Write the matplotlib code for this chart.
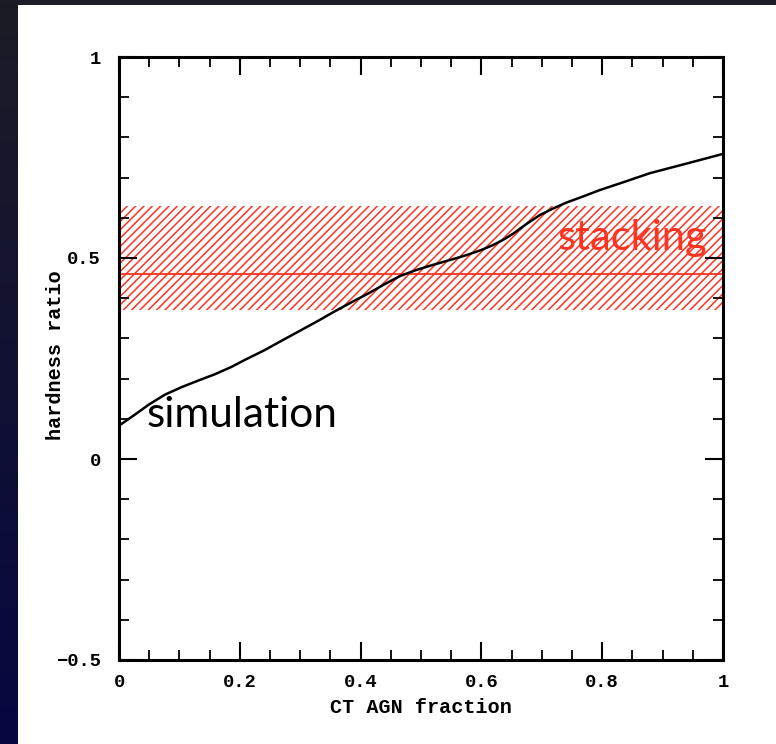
import numpy as np
import matplotlib
matplotlib.use("Agg")
import matplotlib.pyplot as plt
from matplotlib.ticker import MultipleLocator

# ---- data ----
frac = [0.0, 0.026, 0.049, 0.076, 0.104, 0.131, 0.159, 0.186, 0.209, 0.240,
        0.269, 0.302, 0.330, 0.358, 0.385, 0.413, 0.440, 0.465, 0.492, 0.520,
        0.548, 0.575, 0.600, 0.619, 0.637, 0.653, 0.675, 0.697, 0.720, 0.741,
        0.770, 0.796, 0.838, 0.879, 0.940, 1.0]
hr = [0.083, 0.110, 0.135, 0.160, 0.179, 0.195, 0.211, 0.229, 0.247, 0.270,
      0.294, 0.321, 0.344, 0.368, 0.390, 0.412, 0.435, 0.455, 0.470, 0.483,
      0.495, 0.507, 0.520, 0.532, 0.546, 0.561, 0.585, 0.607, 0.624, 0.638,
      0.654, 0.669, 0.690, 0.711, 0.735, 0.759]
stack_mean = 0.46
stack_lo = 0.37
stack_hi = 0.63
xticks = [0, 0.2, 0.4, 0.6, 0.8, 1]
xticklabels = ["0", "0.2", "0.4", "0.6", "0.8", "1"]
yticks = [-0.5, 0, 0.5, 1]
yticklabels = ["\u22120.5", "0", "0.5", "1"]

plt.rcParams['hatch.linewidth'] = 1.1

fig = plt.figure(figsize=(7.76, 7.44), dpi=100)

# dark gradient background
bg = fig.add_axes([0, 0, 1, 1], zorder=-10)
ny, nx = 200, 2
top = np.array([0x1c, 0x1c, 0x26]) / 255
bot = np.array([0x06, 0x07, 0x40]) / 255
t = np.linspace(0, 1, ny)[:, None]
grad = top[None, :] * (1 - t) + bot[None, :] * t
img = np.repeat(grad[:, None, :], nx, axis=1)
bg.imshow(img, aspect='auto', extent=[0, 1, 0, 1], origin='upper')
bg.set_xlim(0, 1); bg.set_ylim(0, 1)
bg.axis('off')
# white panel
bg.add_patch(plt.Rectangle((18 / 776, 0), 1, (744 - 5) / 744,
                           facecolor='white', edgecolor='none'))

ax = fig.add_axes([119 / 776, 1 - 660 / 744, (723 - 119) / 776, (660 - 57) / 744])
ax.set_facecolor('none')

red = '#ff3322'
ax.fill_between([0, 1], [stack_lo, stack_lo], [stack_hi, stack_hi],
                hatch='////', facecolor='none', edgecolor=red, linewidth=0)
ax.axhline(stack_mean, color=red, lw=1.3)
ax.plot(frac, hr, color='black', lw=1.8, solid_joinstyle='round')

ax.text(0.974, 0.52, "stacking", color=red, fontsize=30, family='Lato',
        ha='right', va='baseline')
ax.text(0.046, 0.08, "simulation", color='black', fontsize=30.5, family='Lato',
        ha='left', va='baseline')

ax.set_xlim(0, 1)
ax.set_ylim(-0.5, 1)
ax.set_xticks(xticks)
ax.set_xticklabels(xticklabels)
ax.set_yticks(yticks)
ax.set_yticklabels(yticklabels)
ax.xaxis.set_minor_locator(MultipleLocator(0.05))
ax.yaxis.set_minor_locator(MultipleLocator(0.1))
ax.tick_params(which='both', direction='in', top=True, right=True, color='black')
ax.tick_params(which='major', length=13, width=1.5, labelsize=13.5)
ax.tick_params(axis='x', which='major', pad=10)
ax.tick_params(axis='y', which='major', pad=13)
ax.tick_params(which='minor', length=7, width=1.3)
for lab in ax.get_xticklabels() + ax.get_yticklabels():
    lab.set_family('Liberation Mono')
    lab.set_weight('bold')
for s in ax.spines.values():
    s.set_linewidth(2.2)

ax.set_xlabel("CT AGN fraction", family='Liberation Mono', weight='bold', fontsize=14.5)
ax.set_ylabel("hardness ratio", family='Liberation Mono', weight='bold', fontsize=14.5)
ax.xaxis.set_label_coords(0.5, -0.063)
ax.yaxis.set_label_coords(-0.090, 0.505)

fig.savefig("out.png", dpi=100)
